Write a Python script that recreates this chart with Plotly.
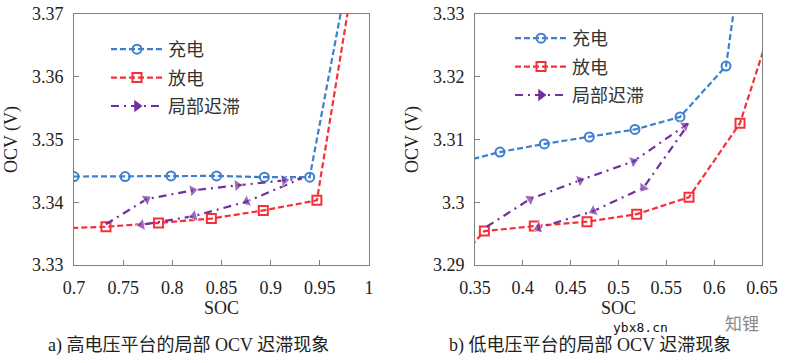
import plotly.graph_objects as go

W, H = 786, 363

# ---------------- data: (a) high-voltage plateau ----------------
a_charge_x = [0.7, 0.752, 0.7986, 0.845, 0.8936, 0.9397, 1.0]
a_charge_y = [3.3441, 3.3441, 3.3442, 3.3442, 3.3440, 3.3440, 3.394]
a_dis_x = [0.68, 0.7325, 0.786, 0.8397, 0.8925, 0.947, 1.0]
a_dis_y = [3.3358, 3.3361, 3.3367, 3.3374, 3.3387, 3.3403, 3.391]
a_hys_up_x = [0.7325, 0.7739, 0.8207, 0.8661, 0.9139, 0.9315]
a_hys_up_y = [3.3365, 3.3405, 3.3419, 3.3427, 3.3435, 3.3438]
a_hys_dn_x = [0.8756, 0.822, 0.7688]
a_hys_dn_y = [3.3401, 3.3378, 3.3364]

# ---------------- data: (b) low-voltage plateau ----------------
b_charge_x = [0.33, 0.3761, 0.4225, 0.4695, 0.5172, 0.5643, 0.6124, 0.66]
b_charge_y = [3.3062, 3.3080, 3.3093, 3.3104, 3.3116, 3.3136, 3.3217, 3.3735]
b_dis_x = [0.34, 0.3598, 0.412, 0.4671, 0.519, 0.5737, 0.627, 0.67]
b_dis_y = [3.2920, 3.2954, 3.2962, 3.2969, 3.2981, 3.3008, 3.3126, 3.333]
b_hys_up_x = [0.3622, 0.4075, 0.4598, 0.5155, 0.5695, 0.5747]
b_hys_up_y = [3.2961, 3.3005, 3.3035, 3.3065, 3.3122, 3.3128]
b_hys_dn_x = [0.526, 0.4737, 0.4162]
b_hys_dn_y = [3.3023, 3.2986, 3.2959]

# ticks
a_xticks = [0.7, 0.75, 0.8, 0.85, 0.9, 0.95, 1.0]
a_xtext = ["0.7", "0.75", "0.8", "0.85", "0.9", "0.95", "1"]
a_yticks = [3.33, 3.34, 3.35, 3.36, 3.37]
a_ytext = ["3.33", "3.34", "3.35", "3.36", "3.37"]
b_xticks = [0.35, 0.4, 0.45, 0.5, 0.55, 0.6, 0.65]
b_xtext = ["0.35", "0.4", "0.45", "0.5", "0.55", "0.6", "0.65"]
b_yticks = [3.29, 3.3, 3.31, 3.32, 3.33]
b_ytext = ["3.29", "3.3", "3.31", "3.32", "3.33"]

names = ["充电", "放电", "局部迟滞"]
captions = ["a) 高电压平台的局部 OCV 迟滞现象", "b) 低电压平台的局部 OCV 迟滞现象"]
watermark = ["ybx8.cn", "知锂"]

BLUE = "#3f7fcf"
RED = "#f5303a"
PURPLE = "#7030a0"
SERIF = "Liberation Serif, Times New Roman, serif"
CJK = "Noto Sans CJK SC, sans-serif"

fig = go.Figure()


def add_panel(xa, ya, leg, cx, cy, dx, dy, hux, huy, hdx, hdy):
    fig.add_trace(go.Scatter(
        x=cx, y=cy, name=names[0], mode="lines+markers", xaxis=xa, yaxis=ya,
        legend=leg, legendgroup=leg + "c",
        line=dict(color=BLUE, width=2.2, dash="6px,3px"),
        marker=dict(symbol="circle-open", size=9, color=BLUE, line=dict(width=2))))
    fig.add_trace(go.Scatter(
        x=dx, y=dy, name=names[1], mode="lines+markers", xaxis=xa, yaxis=ya,
        legend=leg, legendgroup=leg + "d",
        line=dict(color=RED, width=2.2, dash="6px,3px"),
        marker=dict(symbol="square-open", size=9, color=RED, line=dict(width=2))))
    hx = hux + hdx
    hy = huy + hdy
    sizes = [0 if i in (0, len(hux) - 1) else 11 for i in range(len(hx))]
    fig.add_trace(go.Scatter(
        x=hx, y=hy, mode="lines+markers", xaxis=xa, yaxis=ya, showlegend=False,
        line=dict(color=PURPLE, width=2.2, dash="8px,5px,2px,5px"),
        marker=dict(symbol="triangle-up", size=sizes, color=PURPLE,
                    angleref="previous")))
    fig.add_trace(go.Scatter(
        x=[None], y=[None], name=names[2], mode="lines+markers", xaxis=xa, yaxis=ya,
        legend=leg, legendgroup=leg + "h",
        line=dict(color=PURPLE, width=2.2, dash="8px,5px,2px,5px"),
        marker=dict(symbol="triangle-right", size=11, color=PURPLE)))


add_panel("x", "y", "legend", a_charge_x, a_charge_y, a_dis_x, a_dis_y,
          a_hys_up_x, a_hys_up_y, a_hys_dn_x, a_hys_dn_y)
add_panel("x2", "y2", "legend2", b_charge_x, b_charge_y, b_dis_x, b_dis_y,
          b_hys_up_x, b_hys_up_y, b_hys_dn_x, b_hys_dn_y)

ytop = 1 - 14 / H
ybot = 1 - 265 / H


def ax(domain, rng, tv, tt, anchor, title=None, standoff=0):
    d = dict(domain=domain, range=rng, tickvals=tv, ticktext=tt, anchor=anchor,
             showgrid=False, zeroline=False, showline=True, mirror=True,
             linecolor="#7f7f7f", linewidth=1, ticks="inside", ticklen=5,
             tickcolor="#7f7f7f", tickfont=dict(family=SERIF, size=18, color="#222"),
             ticklabelstandoff=6, automargin=False)
    if title:
        d["title"] = dict(text=title, font=dict(family=SERIF, size=18, color="#222"),
                          standoff=standoff)
    return d


legend_common = dict(font=dict(family=CJK, size=18, color="#333"),
                     bgcolor="rgba(0,0,0,0)", itemwidth=52, tracegroupgap=2,
                     yanchor="top", xanchor="left", traceorder="grouped")

fig.update_layout(
    width=W, height=H, margin=dict(l=0, r=0, t=0, b=0, autoexpand=False),
    paper_bgcolor="white", plot_bgcolor="white",
    xaxis=ax([74 / W, 369 / W], [0.7, 1.0], a_xticks, a_xtext, "y", "SOC"),
    yaxis=ax([ybot, ytop], [3.33, 3.37], a_yticks, a_ytext, "x", "OCV (V)", 9),
    xaxis2=ax([475 / W, 762 / W], [0.35, 0.65], b_xticks, b_xtext, "y2", "SOC"),
    yaxis2=ax([ybot, ytop], [3.29, 3.33], b_yticks, b_ytext, "x2", "OCV (V)", 9),
    legend=dict(x=106 / W, y=1 - 31 / H, **legend_common),
    legend2=dict(x=510 / W, y=1 - 20 / H, **legend_common),
    showlegend=True,
)

cap_font = dict(family=SERIF + ", " + CJK, size=18, color="#222")
fig.add_annotation(text=captions[0], x=188 / W, y=1 - 345 / H, xref="paper", yref="paper",
                   xanchor="center", yanchor="middle", showarrow=False, font=cap_font)
fig.add_annotation(text=captions[1], x=590 / W, y=1 - 345 / H, xref="paper", yref="paper",
                   xanchor="center", yanchor="middle", showarrow=False, font=cap_font)
fig.add_annotation(text=watermark[0], x=640 / W, y=1 - 327 / H, xref="paper", yref="paper",
                   xanchor="center", yanchor="middle", showarrow=False,
                   font=dict(family="DejaVu Sans Mono", size=13, color="#111"))
fig.add_annotation(text=watermark[1], x=742 / W, y=1 - 322 / H, xref="paper", yref="paper",
                   xanchor="center", yanchor="middle", showarrow=False,
                   font=dict(family=CJK, size=17, color="#888"))

fig.write_html("out.html", config={"displayModeBar": False},
               post_script="document.body.style.margin='0px';")
